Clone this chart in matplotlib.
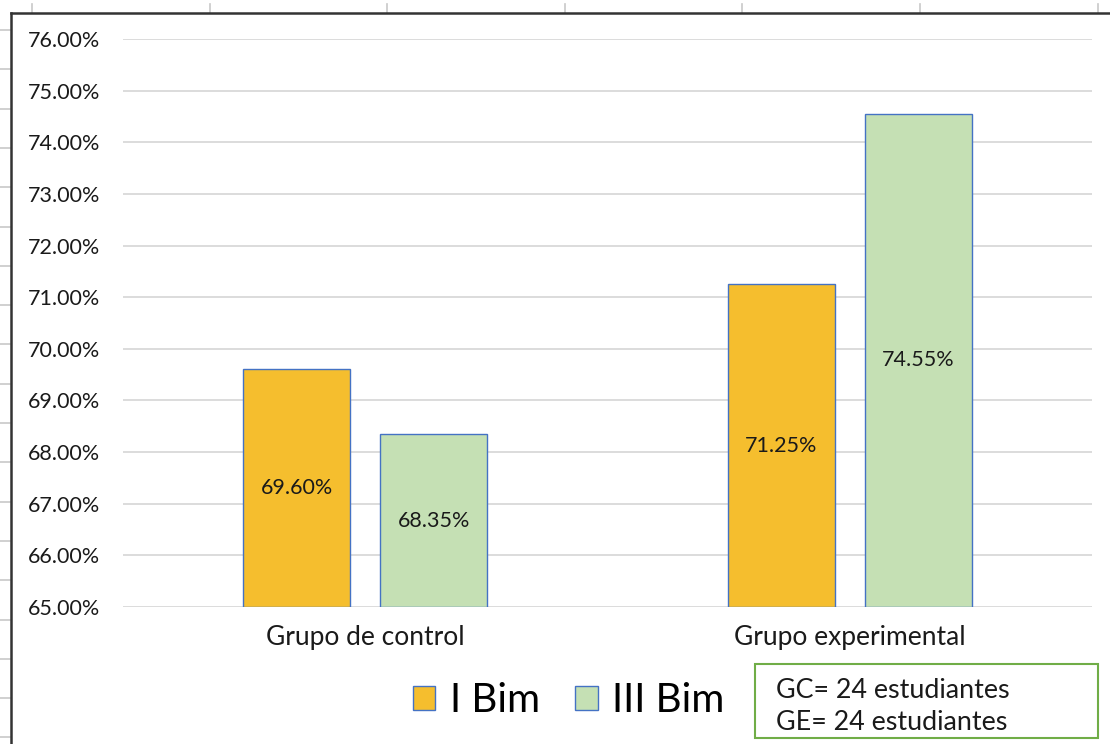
import matplotlib.pyplot as plt
import numpy as np
from matplotlib.lines import Line2D
from matplotlib.patches import Rectangle
from matplotlib.ticker import PercentFormatter

# Data
grupos = ['Grupo de control', 'Grupo experimental']
series = ['I Bim', 'III Bim']
i_bim = [69.60, 71.25]
iii_bim = [68.35, 74.55]
nota = ['GC= 24 estudiantes', 'GE= 24 estudiantes']

colores = ['#F5BE2E', '#C5E0B4']
borde = '#4472C4'

plt.rcParams['font.family'] = ['Lato', 'DejaVu Sans']

W, H = 1110, 744
fig = plt.figure(figsize=(W / 100, H / 100), dpi=100)

# spreadsheet cell lines peeking around the chart frame
for x in np.arange(32, W, 177.6):
    fig.add_artist(Line2D([x / W, x / W], [1 - 4 / H, 1 - 13 / H], color='#c8c8c8', lw=1.2))
for y in np.arange(30, H, 39.3):
    fig.add_artist(Line2D([0, 10 / W], [1 - y / H, 1 - y / H], color='#c8c8c8', lw=1.2))
# chart frame (top and left edges visible)
fig.add_artist(Line2D([11 / W, 1], [1 - 13 / H, 1 - 13 / H], color='#333333', lw=1.8))
fig.add_artist(Line2D([11 / W, 11 / W], [0, 1 - 13 / H], color='#333333', lw=1.8))

ax = fig.add_axes([123 / W, (H - 607) / H, (1092 - 123) / W, (607 - 39) / H])

x = np.arange(len(grupos))
ancho = 0.221
desp = 0.1415
valores = [i_bim, iii_bim]
for k, (nombre, vals) in enumerate(zip(series, valores)):
    pos = x + (desp if k else -desp)
    bars = ax.bar(pos, np.array(vals) - 65, bottom=65, width=ancho, color=colores[k],
                  edgecolor=borde, linewidth=1.0, label=nombre, zorder=3)
    for b, v in zip(bars, vals):
        ax.text(b.get_x() + b.get_width() / 2, (65 + v) / 2, f'{v:.2f}%',
                ha='center', va='center', fontsize=15.5, color='#1a1a1a', zorder=4)

ax.set_xlim(-0.5, 1.5)
ax.set_ylim(65, 76)
ax.set_yticks(np.arange(65, 77, 1))
ax.yaxis.set_major_formatter(PercentFormatter(100, decimals=2))
ax.set_xticks(x)
ax.set_xticklabels(grupos, fontsize=19)
ax.tick_params(axis='both', length=0, colors='#1a1a1a')
ax.tick_params(axis='y', labelsize=15.5, pad=16.5)
ax.tick_params(axis='x', pad=13)
ax.grid(axis='y', color='#d9d9d9', lw=1.3, zorder=0)
for s in ax.spines.values():
    s.set_visible(False)

# legend
handles = [Rectangle((0, 0), 1, 1, facecolor=c, edgecolor=borde, lw=1.0) for c in colores]
fig.legend(handles, series, loc='center', bbox_to_anchor=(569 / W, 1 - 701 / H),
           ncol=2, frameon=False, fontsize=29, handlelength=0.55, handleheight=0.55,
           handletextpad=0.37, columnspacing=0.87, borderpad=0, borderaxespad=0)

# note box
fig.add_artist(Rectangle((755 / W, 1 - 738 / H), (1098 - 755) / W, (738 - 664) / H,
                         transform=fig.transFigure, facecolor='white',
                         edgecolor='#70AD47', lw=1.5))
for i, t in enumerate(nota):
    fig.text(776 / W, 1 - (691 + 31 * i) / H, t, ha='left', va='center',
             fontsize=19.4, color='#1a1a1a')

fig.savefig('out.png', dpi=100)
